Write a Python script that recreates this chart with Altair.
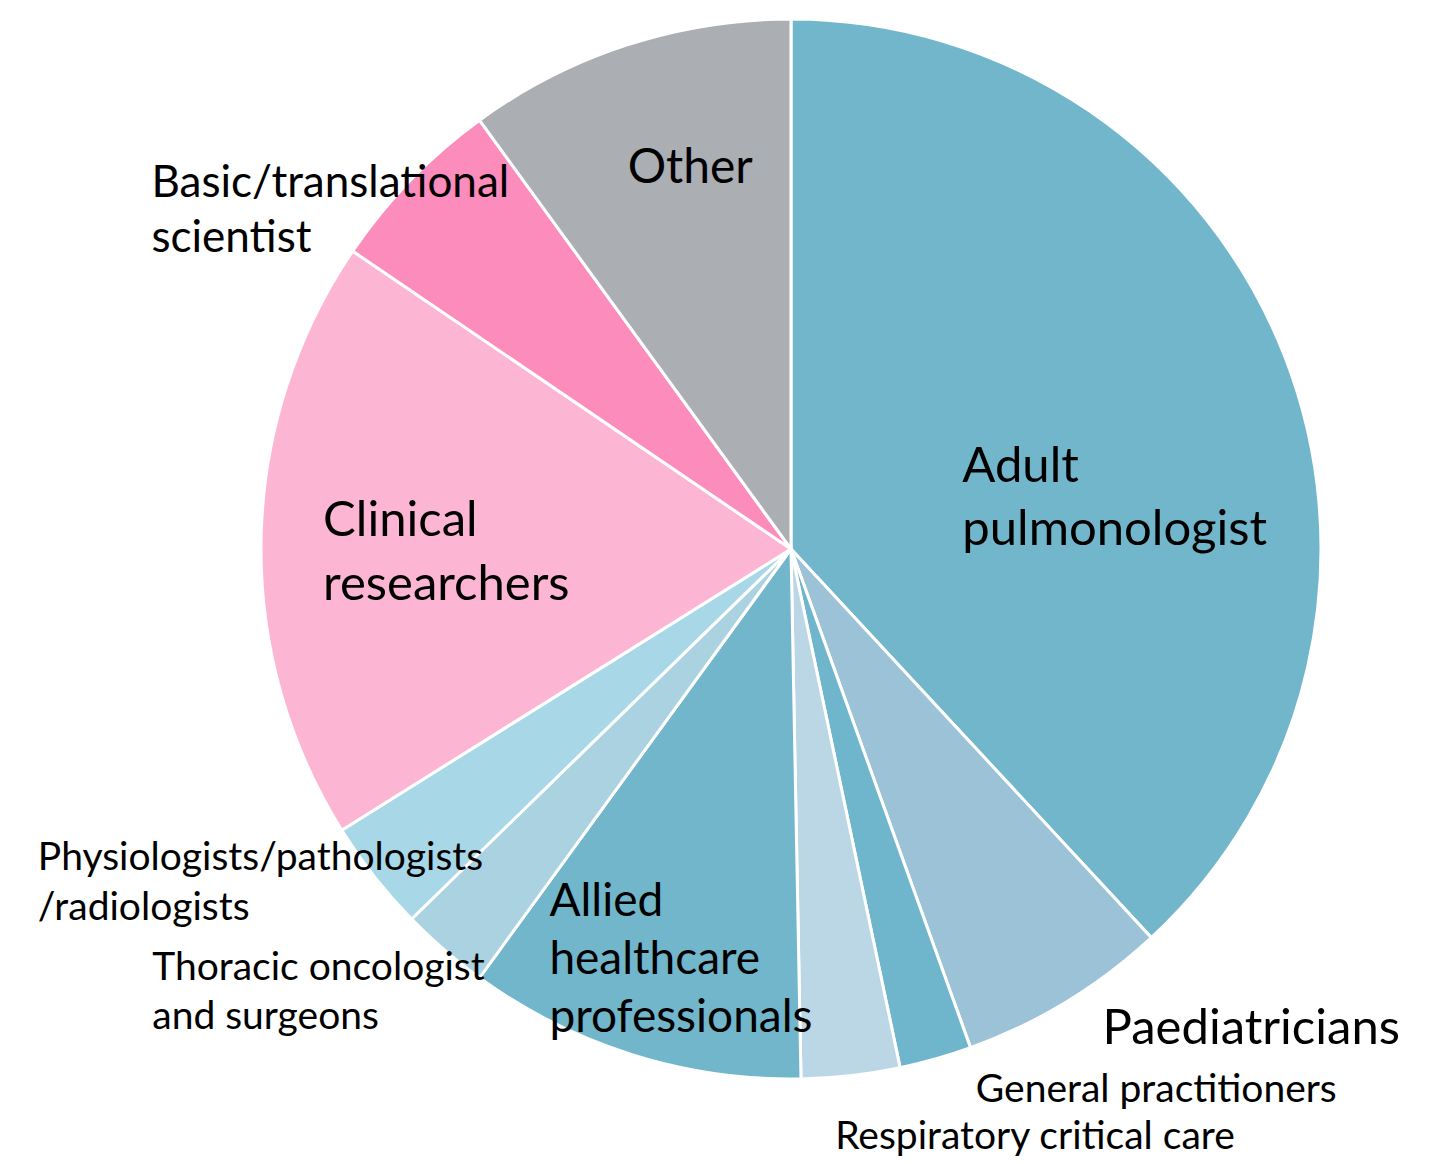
import altair as alt
import pandas as pd

categories = [
    "Adult pulmonologist",
    "Paediatricians",
    "General practitioners",
    "Respiratory critical care",
    "Allied healthcare professionals",
    "Thoracic oncologist and surgeons",
    "Physiologists/pathologists/radiologists",
    "Clinical researchers",
    "Basic/translational scientist",
    "Other",
]
values = [38.1, 6.4, 2.2, 3.0, 10.3, 2.7, 3.4, 18.4, 5.5, 10.0]
label_texts = [
    ["Adult", "pulmonologist"],
    ["Paediatricians"],
    ["General practitioners"],
    ["Respiratory critical care"],
    ["Allied", "healthcare", "professionals"],
    ["Thoracic oncologist", "and surgeons"],
    ["Physiologists/pathologists", "/radiologists"],
    ["Clinical", "researchers"],
    ["Basic/translational", "scientist"],
    ["Other"],
]
colors = [
    "#71B6CB", "#9BC2D6", "#6FB5CB", "#BBD7E6", "#71B6CB",
    "#AAD2E0", "#A8D7E8", "#FCB5D2", "#FC8CBB", "#ABAEB3",
]

df = pd.DataFrame({"category": categories, "value": values,
                   "order": list(range(len(categories)))})
total = float(sum(values))

CX, CY = 783, 541
theta_scale = alt.Scale(domain=[0, total], range=[0, 6.283185307179586])

pie = alt.Chart(df).mark_arc(outerRadius=530, stroke="white", strokeWidth=3).encode(
    theta=alt.Theta("value:Q", stack=True, scale=theta_scale),
    order=alt.Order("order:Q"),
    color=alt.Color("category:N", scale=alt.Scale(domain=categories, range=colors), legend=None),
    x=alt.value(CX),
    y=alt.value(CY),
)

# label style: (radius, dx, dy, fontSize, lineHeight)
label_style = [
    (184, 0, 0, 49, 63),
    (586, 7, -6, 49, 58),
    (582, 26, -7, 39, 48),
    (604, -24, 0, 39, 48),
    (422, -115, -36, 46, 58),
    (744, -152, -132, 39, 49),
    (790, -132, -167, 39, 50),
    (468, 0, -4, 49, 64),
    (704, -134, 138, 44, 55),
    (399, -40, 13, 48, 58),
]

layers = [pie]
for cat, txt, (r, dx, dy, fs, lh) in zip(categories, label_texts, label_style):
    t = alt.Chart(df).transform_window(
        cum="sum(value)", sort=[alt.SortField("order")], frame=[None, 0]
    ).transform_calculate(
        mid="datum.cum - datum.value / 2",
        label="join(" + str(txt).replace("'", '"') + ", '\\n')",
    ).transform_filter(
        alt.datum.category == cat
    ).mark_text(
        align="left", baseline="alphabetic", font="Lato", fontSize=fs,
        lineHeight=lh, lineBreak="\n", dx=dx, dy=dy, color="black",
    ).encode(
        theta=alt.Theta("mid:Q", scale=theta_scale),
        radius=alt.value(r),
        x=alt.value(CX),
        y=alt.value(CY),
        text=alt.Text("label:N"),
    )
    layers.append(t)

chart = alt.layer(*layers).properties(
    width=1434, height=1156, padding=0, autosize="none"
).configure_view(stroke=None)

chart.save("out.html", embed_options={"renderer": "svg", "actions": False})
